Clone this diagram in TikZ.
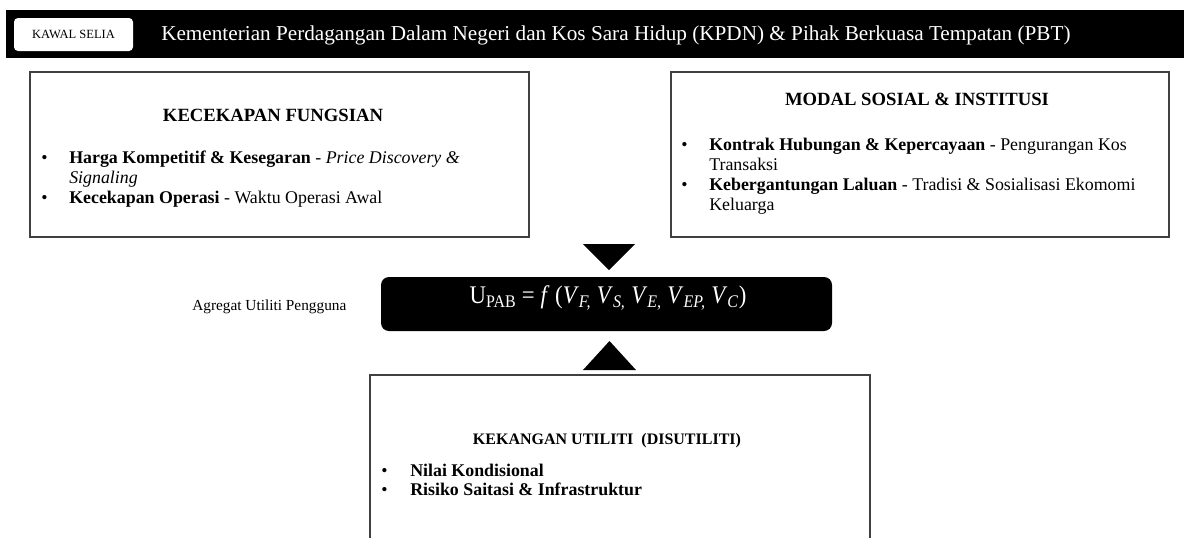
\documentclass[tikz,border=0pt]{standalone}
\usepackage{fontspec}
\setmainfont{Liberation Serif}
\usepackage{graphicx}
\begin{document}
\begin{tikzpicture}[x=0.75pt,y=-0.75pt,
  boxline/.style={draw=black!75,line width=1.1pt},
  txt/.style={anchor=base west,inner sep=0pt,font=\fontsize{13.4}{15}\selectfont},
  ttl/.style={anchor=base,inner sep=0pt,font=\fontsize{14}{16}\selectfont\bfseries},
  bul/.style={anchor=base west,inner sep=0pt,font=\fontsize{13.4}{15}\selectfont}]
\useasboundingbox (0,0) rectangle (1184,537);
% header bar
\fill[black] (6,10) rectangle (1184,58);
\node[fill=white,rounded corners=3pt,minimum width=119*0.75pt,minimum height=33*0.75pt,inner sep=0pt,
  font=\fontsize{9.4}{10}\selectfont] (kawal) at (73.5,34.5) {KAWAL SELIA};
\node[anchor=base west,inner sep=0pt,text=white,font=\fontsize{15.9}{18}\selectfont] (hdr) at (161,40)
  {Kementerian Perdagangan Dalam Negeri dan Kos Sara Hidup (KPDN) \& Pihak Berkuasa Tempatan (PBT)};
% left box
\draw[boxline] (30,72) rectangle (529,237);
\node[ttl] (t1) at (273,121.7) {KECEKAPAN FUNGSIAN};
\node[bul] (b11) at (41,163) {•};
\node[txt] (l11) at (69,163) {\textbf{Harga Kompetitif \& Kesegaran} - \textit{Price Discovery \&}};
\node[txt] (l12) at (69,183) {\textit{Signaling}};
\node[bul] (b12) at (41,203) {•};
\node[txt] (l13) at (69,203) {\textbf{Kecekapan Operasi} - Waktu Operasi Awal};
% right box
\draw[boxline] (671,72) rectangle (1169,237);
\node[ttl] (t2) at (917,105.7) {MODAL SOSIAL \& INSTITUSI};
\node[bul] (b21) at (681,150) {•};
\node[txt] (l21) at (709,150) {\textbf{Kontrak Hubungan \& Kepercayaan} - Pengurangan Kos};
\node[txt] (l22) at (709,170) {Transaksi};
\node[bul] (b22) at (681,190) {•};
\node[txt] (l23) at (709,190) {\textbf{Kebergantungan Laluan} - Tradisi \& Sosialisasi Ekomomi};
\node[txt] (l24) at (709,210) {Keluarga};
% triangles
\fill[black] (583,244) -- (635,244) -- (609,270) -- cycle;
\fill[black] (583,370) -- (636,370) -- (609.5,341) -- cycle;
% formula box
\node[fill=black,rounded corners=6pt,minimum width=451*0.75pt,minimum height=54*0.75pt,inner sep=0pt] (fbox) at (606.5,304) {};
\node[anchor=base,inner sep=0pt,text=white,font=\fontsize{19}{23}\selectfont] (form) at (608,303.5)
  {\scalebox{0.9}[1]{U\textsubscript{PAB} = \textit{f} (\textit{V}\textsubscript{\textit{F,}} \textit{V}\textsubscript{\textit{S,}} \textit{V}\textsubscript{\textit{E,}} \textit{V}\textsubscript{\textit{EP,}} \textit{V}\textsubscript{\textit{C}})}};
\node[anchor=base west,inner sep=0pt,font=\fontsize{11.5}{13}\selectfont] (agr) at (192,310) {Agregat Utiliti Pengguna};
% bottom box
\draw[boxline] (370,545) -- (370,375) -- (870,375) -- (870,545);
\node[anchor=base,inner sep=0pt,font=\fontsize{12}{14}\selectfont\bfseries] (t3) at (607,444) {KEKANGAN UTILITI \ (DISUTILITI)};
\node[bul] (b31) at (381,476) {•};
\node[txt] (l31) at (410,476) {\textbf{Nilai Kondisional}};
\node[bul] (b32) at (381,495) {•};
\node[txt] (l32) at (410,495) {\textbf{Risiko Saitasi \& Infrastruktur}};
\end{tikzpicture}
\end{document}
